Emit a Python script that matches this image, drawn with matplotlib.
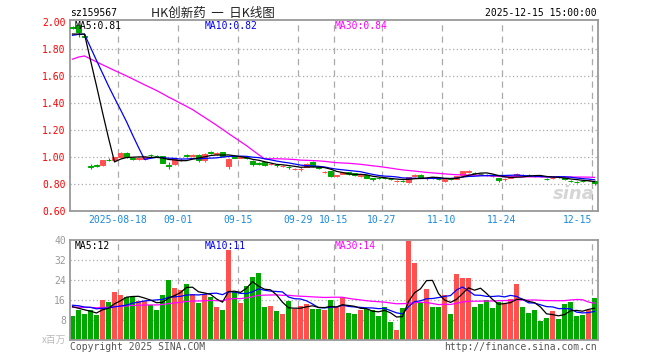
import numpy as np
import pandas as pd
import matplotlib
matplotlib.use("Agg")
import matplotlib.pyplot as plt

plt.rcParams['font.family'] = ['DejaVu Sans Mono', 'Noto Sans CJK SC']

# 29 sessions before the window, only used to seed the moving averages
prev_close = [1.45, 1.65, 1.58, 1.60, 1.62, 1.61, 1.63, 1.64, 1.62, 1.63,
              1.65, 1.66, 1.64, 1.65, 1.67, 1.68, 1.66, 1.69, 1.70, 1.72,
              1.86, 1.88, 1.90, 1.91, 1.92, 1.93, 1.89, 1.90, 1.887]
prev_vol = [11.5, 13.0, 12.2, 14.0, 12.8, 11.9, 13.5, 12.4, 13.1, 12.0,
            12.9, 13.6, 11.8, 12.5, 13.3, 12.1, 13.0, 12.6, 12.4, 13.4,
            14.0, 15.5, 13.2, 16.0, 13.8, 15.0, 13.5, 14.8, 13.6]

opens = [1.962, 1.980, 1.895, 0.932, 0.940, 0.938, 0.982, 0.980, 1.000, 1.034,
         0.990, 0.985, 0.985, 1.015, 1.010, 1.008, 0.940, 0.950, 0.978, 1.012,
         1.008, 1.018, 0.975, 1.035, 1.025, 1.035, 0.935, 1.000, 0.993, 0.998,
         0.970, 0.955, 0.962, 0.945, 0.942, 0.932, 0.928, 0.910, 0.908, 0.930,
         0.962, 0.925, 0.890, 0.898, 0.862, 0.876, 0.889, 0.880, 0.862, 0.868,
         0.846, 0.846, 0.846, 0.840, 0.823, 0.824, 0.815, 0.860, 0.868, 0.842,
         0.850, 0.840, 0.822, 0.842, 0.838, 0.870, 0.890, 0.885, 0.878, 0.868,
         0.860, 0.845, 0.835, 0.848, 0.870, 0.868, 0.867, 0.863, 0.862, 0.840,
         0.842, 0.855, 0.845, 0.823, 0.818, 0.822, 0.828, 0.826]
closes = [1.958, 1.928, 1.890, 0.930, 0.937, 0.975, 0.978, 1.000, 1.034, 0.997,
          0.985, 0.990, 1.002, 1.012, 1.005, 0.958, 0.935, 0.985, 0.982, 1.008,
          1.012, 0.980, 1.025, 1.032, 1.028, 1.010, 0.985, 0.995, 0.997, 0.990,
          0.950, 0.952, 0.940, 0.950, 0.938, 0.935, 0.923, 0.913, 0.913, 0.950,
          0.932, 0.922, 0.893, 0.858, 0.866, 0.889, 0.872, 0.868, 0.866, 0.848,
          0.836, 0.843, 0.843, 0.837, 0.826, 0.820, 0.850, 0.864, 0.848, 0.846,
          0.846, 0.837, 0.836, 0.838, 0.856, 0.898, 0.894, 0.882, 0.875, 0.865,
          0.857, 0.833, 0.838, 0.852, 0.874, 0.865, 0.864, 0.858, 0.857, 0.837,
          0.845, 0.852, 0.834, 0.820, 0.815, 0.819, 0.832, 0.805]
highs = [1.975, 1.985, 1.910, 0.945, 0.950, 0.978, 0.990, 1.004, 1.040, 1.036,
         1.000, 0.998, 1.006, 1.025, 1.015, 1.010, 0.960, 0.990, 0.995, 1.020,
         1.020, 1.022, 1.030, 1.045, 1.035, 1.040, 0.990, 1.005, 1.005, 1.000,
         0.975, 0.965, 0.965, 0.958, 0.948, 0.942, 0.932, 0.922, 0.925, 0.955,
         0.968, 0.932, 0.900, 0.900, 0.870, 0.892, 0.892, 0.885, 0.872, 0.870,
         0.848, 0.850, 0.850, 0.845, 0.830, 0.828, 0.852, 0.875, 0.872, 0.852,
         0.855, 0.845, 0.840, 0.845, 0.860, 0.900, 0.905, 0.890, 0.882, 0.872,
         0.862, 0.848, 0.842, 0.860, 0.882, 0.872, 0.872, 0.865, 0.864, 0.845,
         0.852, 0.858, 0.848, 0.828, 0.825, 0.826, 0.838, 0.828]
lows = [1.950, 1.893, 1.875, 0.915, 0.925, 0.935, 0.970, 0.975, 0.995, 0.995,
        0.975, 0.980, 0.982, 1.000, 0.998, 0.955, 0.915, 0.940, 0.970, 0.998,
        1.000, 0.960, 0.965, 1.020, 1.015, 1.000, 0.913, 0.990, 0.990, 0.985,
        0.935, 0.940, 0.935, 0.940, 0.930, 0.925, 0.915, 0.905, 0.900, 0.925,
        0.928, 0.915, 0.882, 0.852, 0.850, 0.872, 0.868, 0.862, 0.855, 0.845,
        0.820, 0.838, 0.835, 0.830, 0.818, 0.812, 0.810, 0.852, 0.845, 0.830,
        0.840, 0.830, 0.818, 0.833, 0.835, 0.866, 0.885, 0.876, 0.870, 0.860,
        0.852, 0.815, 0.825, 0.845, 0.865, 0.860, 0.858, 0.855, 0.853, 0.830,
        0.835, 0.848, 0.830, 0.812, 0.810, 0.812, 0.822, 0.790]
vols = [9.6, 12.0, 10.4, 12.0, 10.0, 16.0, 15.2, 19.2, 18.0, 17.3,
        17.3, 15.6, 15.7, 14.0, 12.0, 18.0, 24.0, 20.8, 20.0, 22.4,
        18.4, 14.9, 18.4, 17.2, 13.2, 12.0, 36.0, 19.2, 14.8, 21.6,
        25.2, 26.8, 13.2, 13.6, 11.6, 10.4, 15.6, 12.4, 13.6, 14.4,
        12.4, 12.4, 12.0, 16.0, 13.1, 17.1, 10.8, 10.4, 12.0, 12.4,
        12.0, 9.6, 13.2, 7.2, 4.0, 12.8, 39.6, 30.8, 15.2, 20.4,
        13.2, 13.2, 18.0, 10.4, 26.4, 24.8, 24.8, 13.2, 14.4, 16.0,
        12.8, 15.2, 14.4, 16.4, 22.4, 13.2, 10.8, 12.0, 7.6, 8.8,
        11.6, 8.4, 14.4, 15.2, 9.6, 10.0, 12.0, 16.8]

tick_idx = [8, 18, 28, 38, 44, 52, 62, 72, 87]
tick_labels = ["2025-08-18", "09-01", "09-15", "09-29", "10-15",
               "10-27", "11-10", "11-24", "12-15"]
price_ticks = [0.6, 0.8, 1.0, 1.2, 1.4, 1.6, 1.8, 2.0]
vol_ticks = [8, 16, 24, 32, 40]

RED = '#ff5050'
GREEN = '#00a800'
GRID = '#aaaaaa'

n = len(closes)
x = np.arange(n)
o = np.array(opens)
c = np.array(closes)
up = c >= o
colors = np.where(up, RED, GREEN)

# moving averages over history + window, keep the window part
cs = pd.Series(prev_close + closes)
vs = pd.Series(prev_vol + vols)
k = len(prev_close)
ma = {w: cs.rolling(w).mean().values[k:] for w in (5, 10, 30)}
vma = {w: vs.rolling(w).mean().values[k:] for w in (5, 10, 30)}
ma_colors = {5: 'black', 10: '#0000ff', 30: '#ff00ff'}

W, H = 660, 360
fig = plt.figure(figsize=(6.6, 3.6), dpi=100)


def box(l, t, r, b):
    return [l / W, 1 - b / H, (r - l) / W, (b - t) / H]


def ftext(px, py, s, **kw):
    fig.text(px / W, 1 - py / H, s, **kw)


ax = fig.add_axes(box(70, 20, 598, 211))
axv = fig.add_axes(box(70, 240, 598, 340))

xl = (-0.417, n - 0.417)
for a in (ax, axv):
    a.set_xlim(*xl)
    for s in a.spines.values():
        s.set_color('#999999')
        s.set_linewidth(1.3)
    a.set_xticks([])
    a.tick_params(axis='y', length=0, pad=3, labelsize=7)
    for t in tick_idx:
        a.axvline(t - 0.417, color=GRID, lw=0.9, ls=(0, (5, 4)), zorder=0)

# price panel
ax.set_ylim(0.6, 2.017)
ax.set_yticks(price_ticks)
ax.set_yticklabels(['%.2f' % v for v in price_ticks], color='#ff0000')
for v in price_ticks[1:-1]:
    ax.axhline(v, color=GRID, lw=0.9, ls=(0, (1, 2)), zorder=0)

ax.vlines(x, lows, highs, colors=colors, lw=0.8, zorder=2)
ax.bar(x, np.abs(c - o), bottom=np.minimum(o, c), width=0.72,
       color=colors, edgecolor=colors, linewidth=0.7, zorder=3)
for w in (30, 10, 5):
    ax.plot(x, ma[w], color=ma_colors[w], lw=0.9, zorder=4)

for i, lab in zip(tick_idx, tick_labels):
    ha = 'right' if i == tick_idx[-1] else 'center'
    ax.text(i - 0.417, -0.047, lab, transform=ax.get_xaxis_transform(),
            ha=ha, va='center', fontsize=7, color='#1a8ae0')

ax.text(0.955, 0.09, 'sina', transform=ax.transAxes, ha='center', va='center',
        fontsize=13, fontweight='bold', style='italic', color='#d6d6d6',
        family='DejaVu Sans', zorder=1)

# volume panel
axv.set_ylim(0, 40)
axv.set_yticks(vol_ticks)
axv.set_yticklabels([str(v) for v in vol_ticks], color='#999999')
for v in vol_ticks[:-1]:
    axv.axhline(v, color=GRID, lw=0.9, ls=(0, (1, 2)), zorder=0)
axv.bar(x, vols, width=0.833, color=colors, linewidth=0, zorder=2)
for w in (30, 10, 5):
    axv.plot(x, vma[w], color=ma_colors[w], lw=0.9, zorder=4)

# header and labels
ftext(70, 13, 'sz159567', fontsize=7, ha='left', va='center')
ftext(213, 13, 'HK创新药  一  日K线图', fontsize=9, ha='center', va='center',
      family=['Noto Sans CJK SC', 'DejaVu Sans'], color='#222222')
ftext(597, 13, '2025-12-15 15:00:00', fontsize=7, ha='right', va='center')

ftext(75, 26, 'MA5:0.81', fontsize=7, color='black', va='center')
ftext(205, 26, 'MA10:0.82', fontsize=7, color='#0000ff', va='center')
ftext(335, 26, 'MA30:0.84', fontsize=7, color='#ff00ff', va='center')
ftext(75, 246, 'MA5:12', fontsize=7, color='black', va='center')
ftext(205, 246, 'MA10:11', fontsize=7, color='#0000ff', va='center')
ftext(335, 246, 'MA30:14', fontsize=7, color='#ff00ff', va='center')

ftext(66, 340, 'x百万', fontsize=7, ha='right', va='center', color='#bbbbbb',
      family=['Noto Sans CJK SC', 'DejaVu Sans'])
ftext(70, 347, 'Copyright 2025 SINA.COM', fontsize=7, ha='left', va='center',
      color='#555555')
ftext(597, 347, 'http://finance.sina.com.cn', fontsize=7, ha='right',
      va='center', color='#555555')

fig.savefig('out.png', dpi=100, facecolor='white')
